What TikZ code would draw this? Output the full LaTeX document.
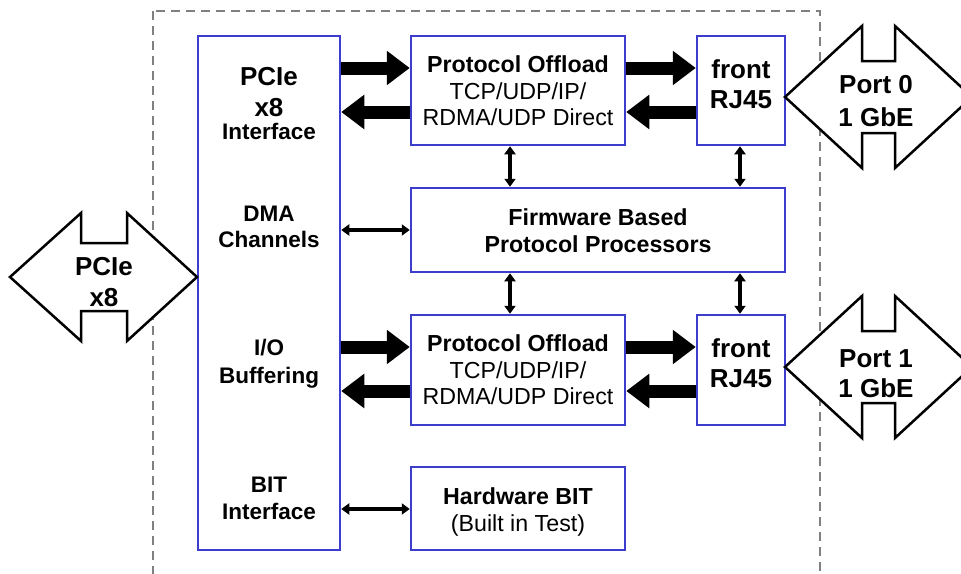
\documentclass[tikz,border=0pt]{standalone}
\usepackage{fontspec}
\setmainfont{Liberation Sans}
\usetikzlibrary{arrows.meta}
\definecolor{boxblue}{RGB}{60,60,205}
\definecolor{dashgray}{RGB}{128,128,128}
\begin{document}
\begin{tikzpicture}[x=1pt,y=-1pt,
  blk/.style={draw=boxblue, line width=2.5pt, fill=white, inner sep=0pt},
  outline/.style={draw=black, line width=2.5pt, fill=white, line join=miter},
  border/.style={draw=dashgray, line width=2pt, dash pattern=on 9pt off 6pt},
  fat/.style={line width=13pt, -{Triangle[length=23pt,width=33pt]}},
  thinarr/.style={line width=3.3pt, {Triangle[length=8pt,width=11pt]}-{Triangle[length=8pt,width=11pt]}},
  big/.style={anchor=base, inner sep=0pt, font=\fontsize{26}{30}\selectfont\bfseries},
  mid/.style={anchor=base, inner sep=0pt, font=\fontsize{22.5}{27}\selectfont\bfseries},
  pb/.style={anchor=base, inner sep=0pt, font=\fontsize{23.2}{28}\selectfont\bfseries},
  pr/.style={anchor=base, inner sep=0pt, font=\fontsize{23.2}{28}\selectfont}]
\useasboundingbox (0,0) rectangle (961,573);
\clip (0,0) rectangle (961,573);
\fill[white] (0,0) rectangle (961,573);

% dashed board outline
\draw[border] (153,11) rectangle (820,610);

% blocks
\node[blk, minimum width=142pt, minimum height=514pt] (pcie) at (269,293) {};
\node[blk, minimum width=214pt, minimum height=109pt] (po1) at (518,90.5) {};
\node[blk, minimum width=88pt, minimum height=109pt] (rj1) at (741,90.5) {};
\node[blk, minimum width=374pt, minimum height=84pt] (fw) at (598,230) {};
\node[blk, minimum width=214pt, minimum height=110pt] (po2) at (518,370) {};
\node[blk, minimum width=88pt, minimum height=110pt] (rj2) at (741,370) {};
\node[blk, minimum width=214pt, minimum height=83pt] (hw) at (518,508.5) {};

% external double arrows
\draw[outline] (10,277) -- (81,213) -- (81,243) -- (127,243) -- (127,213) -- (197,277)
  -- (127,341) -- (127,311) -- (81,311) -- (81,341) -- cycle;
\draw[outline] (785,97) -- (862,26) -- (862,61) -- (895,61) -- (895,26) -- (972,97)
  -- (895,168) -- (895,133) -- (862,133) -- (862,168) -- cycle;
\draw[outline] (785,367) -- (862,296) -- (862,331) -- (895,331) -- (895,296) -- (972,367)
  -- (895,438) -- (895,403) -- (862,403) -- (862,438) -- cycle;

% texts
\node[big] (tp1) at (269,85) {PCIe};
\node[big] (tp2) at (269,116) {x8};
\node[mid] (tp3) at (269,139) {Interface};
\node[mid] (td1) at (269,221) {DMA};
\node[mid] (td2) at (269,247) {Channels};
\node[mid] (ti1) at (269,355) {I/O};
\node[mid] (ti2) at (269,383) {Buffering};
\node[mid] (tb1) at (269,492) {BIT};
\node[mid] (tb2) at (269,519) {Interface};

\node[pb] (to1) at (518,72) {Protocol Offload};
\node[pr] (to2) at (518,99) {TCP/UDP/IP/};
\node[pr] (to3) at (518,125) {RDMA/UDP Direct};
\node[pb] (tu1) at (518,351) {Protocol Offload};
\node[pr] (tu2) at (518,378) {TCP/UDP/IP/};
\node[pr] (tu3) at (518,404) {RDMA/UDP Direct};

\node[pb] (tf1) at (598,225) {Firmware Based};
\node[pb] (tf2) at (598,252) {Protocol Processors};

\node[big] (tr1) at (741,78) {front};
\node[big] (tr2) at (741,108) {RJ45};
\node[big] (ts1) at (741,357) {front};
\node[big] (ts2) at (741,387) {RJ45};

\node[big] (tq1) at (876,93) {Port 0};
\node[big] (tq2) at (876,126) {1 GbE};
\node[big] (tk1) at (876,367) {Port 1};
\node[big] (tk2) at (876,397) {1 GbE};

\node[big] (tl1) at (104,275) {PCIe};
\node[big] (tl2) at (104,306) {x8};

\node[pb] (th1) at (518,504) {Hardware BIT};
\node[pr] (th2) at (518,531.5) {(Built in Test)};

% data path arrows
\draw[fat] (pcie.east |- 0,68) -- (po1.west |- 0,68);
\draw[fat] (po1.west |- 0,112) -- (pcie.east |- 0,112);
\draw[fat] (po1.east |- 0,68) -- (rj1.west |- 0,68);
\draw[fat] (rj1.west |- 0,112) -- (po1.east |- 0,112);
\draw[fat] (pcie.east |- 0,347) -- (po2.west |- 0,347);
\draw[fat] (po2.west |- 0,391) -- (pcie.east |- 0,391);
\draw[fat] (po2.east |- 0,347) -- (rj2.west |- 0,347);
\draw[fat] (rj2.west |- 0,391) -- (po2.east |- 0,391);

% control arrows
\draw[thinarr] (po1.south -| 510,0) -- (fw.north -| 510,0);
\draw[thinarr] (rj1.south -| 740,0) -- (fw.north -| 740,0);
\draw[thinarr] (fw.south -| 510,0) -- (po2.north -| 510,0);
\draw[thinarr] (fw.south -| 740,0) -- (rj2.north -| 740,0);
\draw[thinarr] (pcie.east |- 0,230) -- (fw.west |- 0,230);
\draw[thinarr] (pcie.east |- 0,509) -- (hw.west |- 0,509);
\end{tikzpicture}
\end{document}
